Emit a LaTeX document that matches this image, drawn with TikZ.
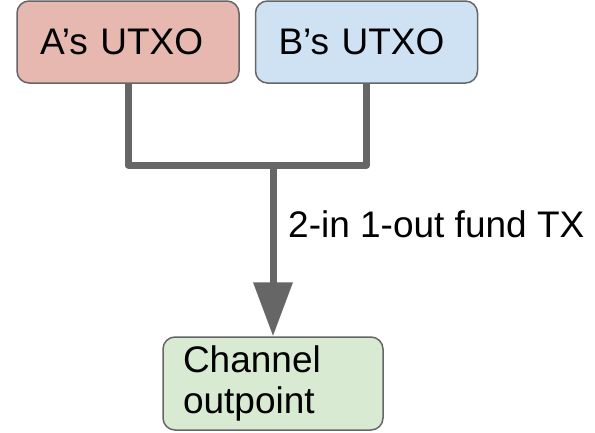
\documentclass[tikz,border=0pt]{standalone}
\usepackage{fontspec}
\setmainfont{Liberation Sans}
\usetikzlibrary{arrows.meta}

\definecolor{boxline}{HTML}{666666}
\definecolor{wire}{HTML}{666666}
\definecolor{redfill}{HTML}{E6B8AF}
\definecolor{bluefill}{HTML}{CFE2F3}
\definecolor{greenfill}{HTML}{D9EAD3}

\tikzset{
  bigtext/.style={font=\fontsize{37pt}{41pt}\selectfont},
  utxo/.style={draw=boxline, line width=1.5pt, rounded corners=12pt,
    minimum height=82pt, text width=176pt, inner xsep=23pt, inner ysep=0pt,
    align=left, bigtext},
  outbox/.style={draw=boxline, line width=1.5pt, rounded corners=12pt,
    minimum height=93pt, text width=180pt, inner xsep=20pt, inner ysep=0pt,
    align=left, bigtext},
  wireline/.style={draw=wire, line width=7pt},
  txlabel/.style={inner sep=0pt, bigtext}
}

\begin{document}
\begin{tikzpicture}[x=1pt, y=-1pt]
  \useasboundingbox (0,0) rectangle (595,432);

  % inputs and output
  \node[utxo, fill=redfill]   (a) at (128,42)    {A’s UTXO};
  \node[utxo, fill=bluefill]  (b) at (366.5,42)  {B’s UTXO};
  \node[outbox, fill=greenfill] (c) at (273,383.5) {Channel\\outpoint};

  % junction where both inputs merge
  \coordinate (j) at (c.north |- 0,165);

  \draw[wireline, line join=round]
    (a.south) -- (a.south |- j) -- (b.south |- j) -- (b.south);
  \draw[wireline, -{Triangle[length=54pt, width=38pt]}] (j) -- (c.north);

  \node[txlabel, anchor=base west] (tx) at (288,237) {2-in 1-out fund TX};
\end{tikzpicture}
\end{document}
